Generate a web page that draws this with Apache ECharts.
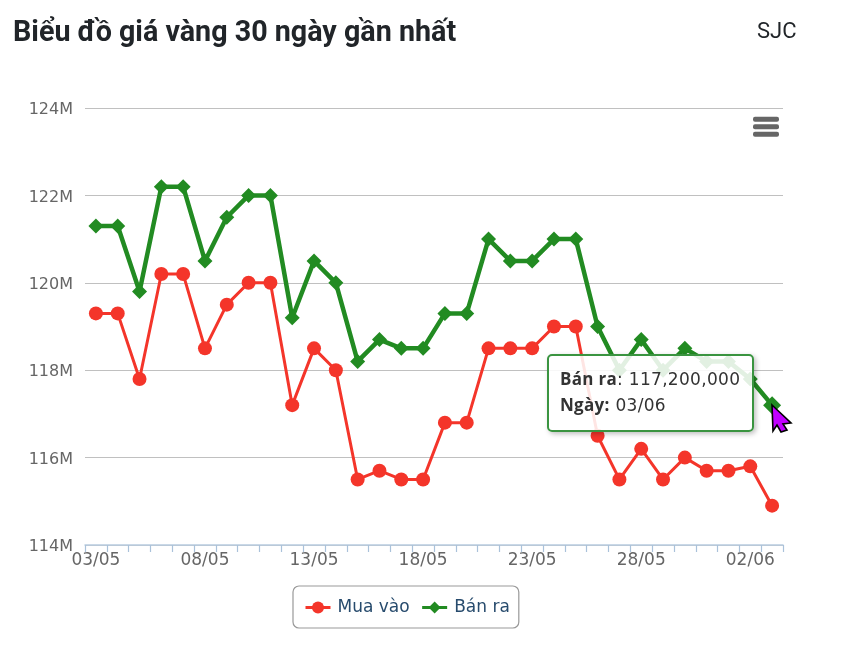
<!DOCTYPE html>
<html><head><meta charset="utf-8">
<style>html,body{margin:0;padding:0;background:#fff}#c{width:842px;height:657px}b{font-family:"Open Sans";font-weight:700}</style>
<script src="https://cdn.jsdelivr.net/npm/echarts@6/dist/echarts.min.js"></script>
</head><body><div id="c"></div>
<script>
const titleText = 'Biểu đồ giá vàng 30 ngày gần nhất';
const brandText = 'SJC';
const categories = ['03/05','04/05','05/05','06/05','07/05','08/05','09/05','10/05','11/05','12/05','13/05','14/05','15/05','16/05','17/05','18/05','19/05','20/05','21/05','22/05','23/05','24/05','25/05','26/05','27/05','28/05','29/05','30/05','31/05','01/06','02/06','03/06'];
const muaVao = [119.3,119.3,117.8,120.2,120.2,118.5,119.5,120,120,117.2,118.5,118,115.5,115.7,115.5,115.5,116.8,116.8,118.5,118.5,118.5,119,119,116.5,115.5,116.2,115.5,116,115.7,115.7,115.8,114.9].map(v=>Math.round(v*10)*100000);
const banRa = [121.3,121.3,119.8,122.2,122.2,120.5,121.5,122,122,119.2,120.5,120,118.2,118.7,118.5,118.5,119.3,119.3,121,120.5,120.5,121,121,119,118,118.7,118,118.5,118.2,118.2,117.8,117.2].map(v=>Math.round(v*10)*100000);
const FONT = '"DejaVu Sans"';
const chart = echarts.init(document.getElementById('c'));
chart.setOption({
  animation:false,
  backgroundColor:'#fff',
  title:[
    {text:titleText,left:13,top:19,padding:0,textStyle:{fontFamily:'Roboto',fontWeight:'bold',fontSize:28.7,color:'#212529'}},
    {text:brandText,left:757,top:21,padding:0,textStyle:{fontFamily:'Roboto',fontWeight:'normal',fontSize:22,color:'#212529'}}
  ],
  grid:{left:85,right:59,top:108,bottom:112,containLabel:false},
  tooltip:{
    trigger:'item',alwaysShowContent:true,
    backgroundColor:'rgba(255,255,255,0.87)',borderColor:'#3a9440',borderWidth:2,borderRadius:5,
    padding:[10,11],extraCssText:'box-shadow:2px 2px 5px rgba(0,0,0,.25);width:181px;height:54px;line-height:25px;letter-spacing:.3px;white-space:nowrap;',
    textStyle:{fontFamily:FONT,fontSize:17,color:'#333'},
    position:()=>[547,354],
    formatter:p=>'<b>'+p.seriesName+'</b>: '+p.value.toLocaleString('en-US')+'<br><b>Ngày:</b> '+p.name
  },
  legend:{
    left:293,top:586,padding:[13,9,12,11],itemGap:11,itemWidth:25,itemHeight:15,
    borderColor:'#999',borderWidth:1.2,borderRadius:6,
    lineStyle:{width:3},
    textStyle:{fontFamily:FONT,fontSize:17,color:'#274b6d',padding:[0,0,0,2]},
    data:['Mua vào','Bán ra']
  },
  xAxis:{
    type:'category',data:categories,boundaryGap:true,z:5,
    axisLine:{lineStyle:{color:'#b8cce0',width:1.5}},
    axisTick:{show:true,interval:0,length:7,lineStyle:{color:'#aac2da',width:1.2}},
    axisLabel:{interval:4,margin:7,fontFamily:FONT,fontSize:17,color:'#666'},
    splitLine:{show:false}
  },
  yAxis:{
    type:'value',min:114000000,max:124000000,interval:2000000,
    axisLine:{show:false},axisTick:{show:false},
    axisLabel:{margin:12,fontFamily:FONT,fontSize:16,color:'#666',verticalAlign:'top',lineHeight:4,formatter:v=>(v/1000000)+'M'},
    splitLine:{lineStyle:{color:'#c0c0c0',width:1}}
  },
  series:[
    {name:'Mua vào',type:'line',data:muaVao,symbol:'circle',symbolSize:14,showSymbol:true,showAllSymbol:true,
     lineStyle:{color:'#f4352a',width:3},itemStyle:{color:'#f4352a'},emphasis:{disabled:true}},
    {name:'Bán ra',type:'line',data:banRa,symbol:'diamond',symbolSize:(v,p)=>p.dataIndex===banRa.length-1?18:15,showSymbol:true,showAllSymbol:true,
     lineStyle:{color:'#228b22',width:4.5},itemStyle:{color:'#228b22'},emphasis:{disabled:true}}
  ],
  graphic:[
    {type:'group',left:753,top:116.7,children:[
      {type:'rect',shape:{x:0,y:0,width:26,height:5,r:2},style:{fill:'#666'}},
      {type:'rect',shape:{x:0,y:7.5,width:26,height:5,r:2},style:{fill:'#666'}},
      {type:'rect',shape:{x:0,y:15,width:26,height:5,r:2},style:{fill:'#666'}}
    ]},
    {type:'polygon',z:100,shape:{points:[[772,405],[791,423],[783,424],[787,430],[781,432],[777,425],[773,431]]},style:{fill:'#c000ff',stroke:'#000',lineWidth:1.6}}
  ]
});
chart.dispatchAction({type:'showTip',seriesIndex:1,dataIndex:31});
</script></body></html>
